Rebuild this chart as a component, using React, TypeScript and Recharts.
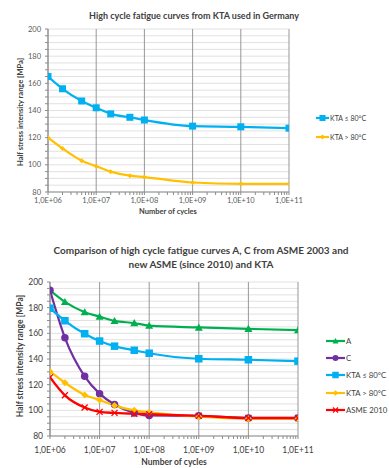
import React from 'react';
import { LineChart, Line, XAxis, YAxis, CartesianGrid, ReferenceLine } from 'recharts';

// ---------- data ----------
const cycles = [1e6, 2e6, 5e6, 1e7, 2e7, 5e7, 1e8, 1e9, 1e10, 1e11];
const decadeTicks = [1e6, 1e7, 1e8, 1e9, 1e10, 1e11];
const allXTicks = [
  1e6, 2e6, 3e6, 4e6, 5e6, 6e6, 7e6, 8e6, 9e6,
  1e7, 2e7, 3e7, 4e7, 5e7, 6e7, 7e7, 8e7, 9e7,
  1e8, 2e8, 3e8, 4e8, 5e8, 6e8, 7e8, 8e8, 9e8,
  1e9, 2e9, 3e9, 4e9, 5e9, 6e9, 7e9, 8e9, 9e9,
  1e10, 2e10, 3e10, 4e10, 5e10, 6e10, 7e10, 8e10, 9e10,
  1e11,
];
const yTicks = [80, 85, 90, 95, 100, 105, 110, 115, 120, 125, 130, 135, 140, 145, 150, 155, 160, 165, 170, 175, 180, 185, 190, 195, 200];
const yLabelTicks = [80, 100, 120, 140, 160, 180, 200];

// top chart (KTA)
const ktaLowTop = [165, 156, 147, 142, 137.5, 135, 133, 128.5, 128, 127];
const ktaHighTop = [120, 112, 103, 99, 95, 92, 91, 87, 86, 86];

// bottom chart (comparison)
const curveA = [193.5, 184.5, 176.5, 173, 169.7, 168, 166, 164.6, 163.5, 162.5];
const curveC = [193.5, 156.5, 126.5, 113, 104.5, 98, 96, 95.7, 94, 94];
const ktaLowBottom = [179.6, 169.8, 159.7, 154, 150, 146.8, 144.5, 140.2, 139.4, 138.3];
const ktaHighBottom = [130.3, 121.5, 112, 108, 103.7, 100, 98.5, 95, 93.5, 93.5];
const asme2010 = [125.7, 111.7, 102.2, 98.8, 98, 97.3, 97, 95.7, 94, 94];

const topData = cycles.map((c, i) => ({ n: c, ktaLow: ktaLowTop[i], ktaHigh: ktaHighTop[i] }));
const bottomData = cycles.map((c, i) => ({
  n: c,
  a: curveA[i],
  c: curveC[i],
  ktaLow: ktaLowBottom[i],
  ktaHigh: ktaHighBottom[i],
  asme: asme2010[i],
}));

// ---------- styling ----------
const FONT = 'Lato, "Open Sans", sans-serif';
const BLUE = '#00b0f0';
const ORANGE = '#ffc000';
const GREEN = '#00b050';
const PURPLE = '#7030a0';
const RED = '#ff0000';
const GRID_MINOR = '#d9d9d9';
const GRID_MAJOR = '#8c8c8c';
const TEXT = '#404040';

type Kind = 'square' | 'diamond' | 'triangle' | 'circle' | 'cross';

function Marker({ kind, cx, cy, color, size }: { kind: Kind; cx: number; cy: number; color: string; size: number }) {
  const s = size / 2;
  switch (kind) {
    case 'square':
      return <rect x={cx - s} y={cy - s} width={size} height={size} fill={color} />;
    case 'diamond':
      return <polygon points={`${cx},${cy - s} ${cx + s},${cy} ${cx},${cy + s} ${cx - s},${cy}`} fill={color} />;
    case 'triangle':
      return <polygon points={`${cx},${cy - s} ${cx + s},${cy + s * 0.8} ${cx - s},${cy + s * 0.8}`} fill={color} />;
    case 'circle':
      return <circle cx={cx} cy={cy} r={s} fill={color} />;
    case 'cross':
      return (
        <g stroke={color} strokeWidth={1.3}>
          <line x1={cx - s} y1={cy - s} x2={cx + s} y2={cy + s} />
          <line x1={cx - s} y1={cy + s} x2={cx + s} y2={cy - s} />
        </g>
      );
  }
  return null;
}

const makeDot = (kind: Kind, color: string, size: number) => (p: any) => {
  if (p == null || p.cx == null || p.cy == null) return <g key={`e-${p?.index}`} />;
  return (
    <g key={`d-${kind}-${p.index}`}>
      <Marker kind={kind} cx={p.cx} cy={p.cy} color={color} size={size} />
    </g>
  );
};

const fmtX = (v: number) => {
  if (!decadeTicks.includes(v)) return '';
  const e = Math.round(Math.log10(v));
  return `1,0E+${e < 10 ? '0' + e : e}`;
};
const fmtY = (v: number) => (yLabelTicks.includes(v) ? String(v) : '');

function LegendRow({
  kind, color, label, lineLen, size, fontSize, left, top,
}: { kind: Kind; color: string; label: string; lineLen: number; size: number; fontSize: number; left: number; top: number }) {
  return (
    <div style={{ position: 'absolute', left, top: top - 6, height: 12, display: 'flex', alignItems: 'center', whiteSpace: 'nowrap' }}>
      <svg width={lineLen} height={12} style={{ display: 'block' }}>
        <line x1={0} y1={6} x2={lineLen} y2={6} stroke={color} strokeWidth={2.2} />
        <Marker kind={kind} cx={lineLen / 2} cy={6} color={color} size={size} />
      </svg>
      <span style={{ fontSize, color: TEXT, marginLeft: 1, lineHeight: '12px' }}>{label}</span>
    </div>
  );
}

const absText = (style: React.CSSProperties, text: string) => (
  <div style={{ position: 'absolute', whiteSpace: 'nowrap', color: TEXT, ...style }}>{text}</div>
);

export default function App() {
  return (
    <div style={{ position: 'absolute', left: 0, top: 0, width: 389, height: 468, background: '#ffffff', fontFamily: FONT, overflow: 'hidden' }}>
      {/* ---------- top chart ---------- */}
      {absText({ left: 194, top: 15, transform: 'translate(-50%,-50%)', fontSize: 9, fontWeight: 700 }, 'High cycle fatigue curves from KTA used in Germany')}
      <div style={{ position: 'absolute', left: 0, top: 0 }}>
        <LineChart width={389} height={222} data={topData} margin={{ top: 29, right: 100, bottom: 0, left: 0 }}>
          <CartesianGrid vertical={false} stroke={GRID_MINOR} strokeWidth={0.8} />
          {decadeTicks.map((d) => (
            <ReferenceLine key={d} x={d} stroke={GRID_MAJOR} strokeWidth={0.9} ifOverflow="extendDomain" />
          ))}
          <XAxis
            dataKey="n"
            type="number"
            scale="log"
            domain={[1e6, 1e11]}
            ticks={allXTicks}
            interval={0}
            tickFormatter={fmtX}
            tickSize={3}
            tickMargin={3}
            height={30}
            stroke={GRID_MAJOR}
            tick={{ fontSize: 7.5, fill: '#595959', fontFamily: FONT }}
            allowDataOverflow
          />
          <YAxis
            type="number"
            domain={[80, 200]}
            ticks={yTicks}
            interval={0}
            tickFormatter={fmtY}
            width={48}
            tickSize={3}
            tickMargin={4}
            stroke={GRID_MAJOR}
            tick={{ fontSize: 7.5, fill: '#595959', fontFamily: FONT }}
          />
          <Line type="monotone" dataKey="ktaLow" stroke={BLUE} strokeWidth={2.2} isAnimationActive={false} dot={makeDot('square', BLUE, 7)} activeDot={false} />
          <Line type="monotone" dataKey="ktaHigh" stroke={ORANGE} strokeWidth={2.2} isAnimationActive={false} dot={makeDot('diamond', ORANGE, 5)} activeDot={false} />
        </LineChart>
      </div>
      {absText({ left: 20, top: 112, transform: 'translate(-50%,-50%) rotate(-90deg)', fontSize: 7.5, fontWeight: 700 }, 'Half stress intensity range [MPa]')}
      {absText({ left: 168, top: 211, transform: 'translate(-50%,-50%)', fontSize: 7.5, fontWeight: 700 }, 'Number of cycles')}
      <LegendRow kind="square" color={BLUE} label="KTA ≤ 80°C" lineLen={13} size={6} fontSize={7} left={316} top={118} />
      <LegendRow kind="diamond" color={ORANGE} label="KTA > 80°C" lineLen={13} size={5} fontSize={7} left={316} top={137} />

      {/* ---------- bottom chart ---------- */}
      {absText({ left: 201, top: 250, transform: 'translate(-50%,-50%)', fontSize: 10, fontWeight: 700 }, 'Comparison of high cycle fatigue curves A, C from ASME 2003 and')}
      {absText({ left: 201, top: 264, transform: 'translate(-50%,-50%)', fontSize: 10, fontWeight: 700 }, 'new ASME (since 2010) and KTA')}
      <div style={{ position: 'absolute', left: 0, top: 236 }}>
        <LineChart width={389} height={232} data={bottomData} margin={{ top: 46, right: 91, bottom: 0, left: 0 }}>
          <CartesianGrid vertical={false} stroke={GRID_MINOR} strokeWidth={0.8} />
          {decadeTicks.map((d) => (
            <ReferenceLine key={d} x={d} stroke={GRID_MAJOR} strokeWidth={0.9} ifOverflow="extendDomain" />
          ))}
          <XAxis
            dataKey="n"
            type="number"
            scale="log"
            domain={[1e6, 1e11]}
            ticks={allXTicks}
            interval={0}
            tickFormatter={fmtX}
            tickSize={3}
            tickMargin={8}
            height={32}
            stroke={GRID_MAJOR}
            tick={{ fontSize: 8.5, fill: '#404040', fontFamily: FONT }}
            allowDataOverflow
          />
          <YAxis
            type="number"
            domain={[80, 200]}
            ticks={yTicks}
            interval={0}
            tickFormatter={fmtY}
            width={50}
            tickSize={3}
            tickMargin={4}
            stroke={GRID_MAJOR}
            tick={{ fontSize: 8.5, fill: '#404040', fontFamily: FONT }}
          />
          <Line type="monotone" dataKey="a" stroke={GREEN} strokeWidth={2.2} isAnimationActive={false} dot={makeDot('triangle', GREEN, 8)} activeDot={false} />
          <Line type="monotone" dataKey="c" stroke={PURPLE} strokeWidth={2.2} isAnimationActive={false} dot={makeDot('circle', PURPLE, 7.5)} activeDot={false} />
          <Line type="monotone" dataKey="ktaLow" stroke={BLUE} strokeWidth={2.2} isAnimationActive={false} dot={makeDot('square', BLUE, 7.5)} activeDot={false} />
          <Line type="monotone" dataKey="ktaHigh" stroke={ORANGE} strokeWidth={2.2} isAnimationActive={false} dot={makeDot('diamond', ORANGE, 7)} activeDot={false} />
          <Line type="monotone" dataKey="asme" stroke={RED} strokeWidth={2.4} isAnimationActive={false} dot={makeDot('cross', RED, 6)} activeDot={false} />
        </LineChart>
      </div>
      {absText({ left: 20, top: 356, transform: 'translate(-50%,-50%) rotate(-90deg)', fontSize: 8.5, fontWeight: 700 }, 'Half stress intensity range [MPa]')}
      {absText({ left: 174, top: 462, transform: 'translate(-50%,-50%)', fontSize: 8.5, fontWeight: 700 }, 'Number of cycles')}
      <LegendRow kind="triangle" color={GREEN} label="A" lineLen={19} size={6} fontSize={7.8} left={326} top={341} />
      <LegendRow kind="circle" color={PURPLE} label="C" lineLen={19} size={6} fontSize={7.8} left={326} top={358} />
      <LegendRow kind="square" color={BLUE} label="KTA ≤ 80°C" lineLen={19} size={6.5} fontSize={7.8} left={326} top={375} />
      <LegendRow kind="diamond" color={ORANGE} label="KTA > 80°C" lineLen={19} size={5.5} fontSize={7.8} left={326} top={393} />
      <LegendRow kind="cross" color={RED} label="ASME 2010" lineLen={19} size={5} fontSize={7.8} left={326} top={410} />
    </div>
  );
}
